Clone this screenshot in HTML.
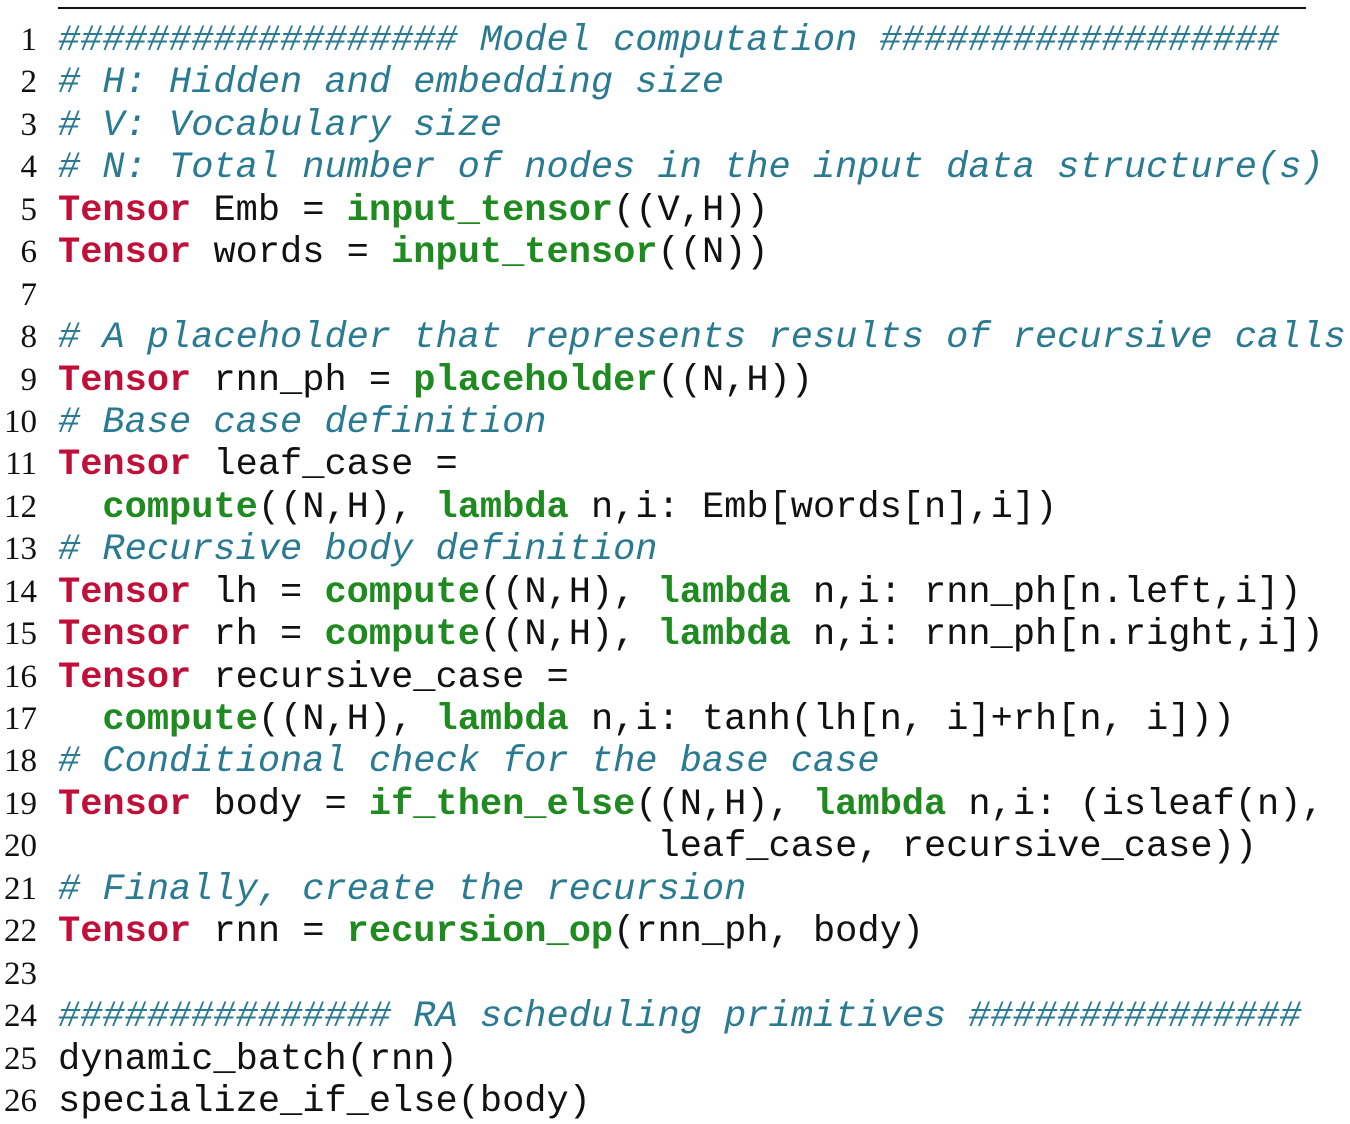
<!DOCTYPE html>
<html><head><meta charset="utf-8"><style>
body{margin:0;width:1350px;height:1124px;background:#fff;overflow:hidden;position:relative}
.rule{position:absolute;left:58px;top:7px;width:1248px;height:2px;background:#111}
.code{position:absolute;left:58px;top:20px;font-family:"Liberation Mono",monospace;font-size:37px;line-height:42.44px;white-space:pre;color:#111}
.nums{position:absolute;left:0;top:19px;width:37px;text-align:right;font-family:"Liberation Serif",serif;font-size:33px;line-height:42.44px;color:#111}
.c{color:#2a7a92;font-style:italic}
.t{color:#c0103a;font-weight:bold}
.f{color:#1f8a1f;font-weight:bold}
</style></head><body>
<div class="rule"></div>
<div class="nums">1<br>2<br>3<br>4<br>5<br>6<br>7<br>8<br>9<br>10<br>11<br>12<br>13<br>14<br>15<br>16<br>17<br>18<br>19<br>20<br>21<br>22<br>23<br>24<br>25<br>26</div>
<div class="code"><span class="c">################## Model computation ##################</span>
<span class="c"># H: Hidden and embedding size</span>
<span class="c"># V: Vocabulary size</span>
<span class="c"># N: Total number of nodes in the input data structure(s)</span>
<span class="t">Tensor</span> Emb = <span class="f">input_tensor</span>((V,H))
<span class="t">Tensor</span> words = <span class="f">input_tensor</span>((N))

<span class="c"># A placeholder that represents results of recursive calls</span>
<span class="t">Tensor</span> rnn_ph = <span class="f">placeholder</span>((N,H))
<span class="c"># Base case definition</span>
<span class="t">Tensor</span> leaf_case =
  <span class="f">compute</span>((N,H), <span class="f">lambda</span> n,i: Emb[words[n],i])
<span class="c"># Recursive body definition</span>
<span class="t">Tensor</span> lh = <span class="f">compute</span>((N,H), <span class="f">lambda</span> n,i: rnn_ph[n.left,i])
<span class="t">Tensor</span> rh = <span class="f">compute</span>((N,H), <span class="f">lambda</span> n,i: rnn_ph[n.right,i])
<span class="t">Tensor</span> recursive_case =
  <span class="f">compute</span>((N,H), <span class="f">lambda</span> n,i: tanh(lh[n, i]+rh[n, i]))
<span class="c"># Conditional check for the base case</span>
<span class="t">Tensor</span> body = <span class="f">if_then_else</span>((N,H), <span class="f">lambda</span> n,i: (isleaf(n),
                           leaf_case, recursive_case))
<span class="c"># Finally, create the recursion</span>
<span class="t">Tensor</span> rnn = <span class="f">recursion_op</span>(rnn_ph, body)

<span class="c">############### RA scheduling primitives ###############</span>
dynamic_batch(rnn)
specialize_if_else(body)</div>
</body></html>
